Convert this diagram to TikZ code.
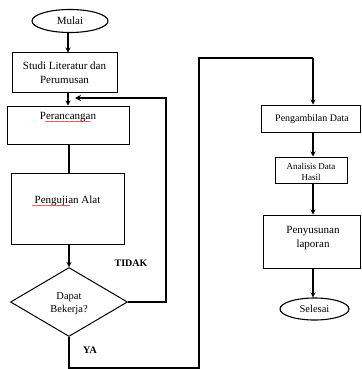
\documentclass[tikz,border=0pt]{standalone}
\usepackage{fontspec}
\setmainfont{Liberation Serif}
\usetikzlibrary{shapes.geometric,arrows.meta,decorations.pathmorphing}
\begin{document}
\begin{tikzpicture}[x=1pt,y=-1pt,
  box/.style={draw,line width=1pt,rectangle,inner sep=0pt},
  oval/.style={draw,line width=1.1pt,ellipse,inner sep=0pt},
  txt/.style={inner sep=0pt,align=center,font=\fontsize{11}{14}\selectfont},
  small/.style={inner sep=0pt,align=center,font=\fontsize{10}{11}\selectfont},
  arr/.style={line width=1.1pt,-{Stealth[length=5pt,width=5pt]}},
  ln/.style={line width=1.1pt},
  loop/.style={line width=1.6pt},
  wavy/.style={draw=red!80!black,line width=0.35pt,decorate,decoration={snake,amplitude=0.5pt,segment length=2.5pt}}]
\useasboundingbox (0,0) rectangle (361,369);
% left column
\node[oval,minimum width=76pt,minimum height=23pt] (mulai) at (70,21) {};
\node[txt] (tmulai) at (70,21) {Mulai};
\node[box,minimum width=105pt,minimum height=39pt] (studi) at (64.5,72.5) {};
\node[txt] (tstudi) at (64.5,73) {Studi Literatur dan\\Perumusan};
\node[box,minimum width=122pt,minimum height=38pt] (peran) at (68,125) {};
\node[txt] (tperan) at (68,117) {Perancangan};
\node[box,minimum width=113pt,minimum height=71pt] (peng) at (67.5,208.5) {};
\node[txt] (tpeng) at (67.5,201) {Pengujian Alat};
\node[draw,line width=1pt,diamond,aspect=1.7,minimum width=117pt,minimum height=69pt,inner sep=0pt] (dia) at (69,302) {};
\node[txt,font=\fontsize{10.5}{13}\selectfont] (tdia) at (69,304) {Dapat\\Bekerja?};
\draw[wavy] (45,121.5) -- (91,121.5);
\draw[wavy] (32,205.5) -- (70,205.5);
% right column
\node[box,minimum width=99pt,minimum height=27pt] (ambil) at (310.5,118.5) {};
\node[small] (tambil) at (312,119) {Pengambilan Data};
\node[box,minimum width=72pt,minimum height=26pt] (anal) at (311,170) {};
\node[small,font=\fontsize{9}{10.5}\selectfont] (tanal) at (311,172) {Analisis Data\\Hasil};
\node[box,minimum width=97pt,minimum height=53pt] (susun) at (311.5,241.5) {};
\node[txt] (tsusun) at (313,238) {Penyusunan\\laporan};
\node[oval,minimum width=69pt,minimum height=22pt] (selesai) at (314.5,309) {};
\node[txt,font=\fontsize{10.5}{13}\selectfont] (tselesai) at (314.5,309) {Selesai};
% labels
\node[inner sep=0pt,font=\bfseries\fontsize{10}{12}\selectfont] (tidak) at (131,263) {TIDAK};
\node[inner sep=0pt,font=\bfseries\fontsize{10}{12}\selectfont] (ya) at (90,350) {YA};
% coordinates
\coordinate (c1) at (166,98);
\coordinate (c2) at (75,98);
\coordinate (y1) at (69,368);
\coordinate (y2) at (199,58);
\coordinate (y3) at (313,58);
% connectors
\draw[arr] (peran.north |- mulai.south) -- (peran.north |- studi.north);
\draw[arr] (peran.north |- studi.south) -- (peran.north);
\draw[ln] (dia.north |- peran.south) -- (dia.north |- peng.north);
\draw[arr] (dia.north |- peng.south) -- (dia.north);
\draw[loop,-{Stealth[length=6pt,width=6pt]}] (dia.east) -| (c1) -- (c2);
\draw[loop] (dia.south) -- (y1) -| (y2) -- (y3);
\draw[arr] (y3) -- (y3 |- ambil.north);
\draw[arr] (y3 |- ambil.south) -- (y3 |- anal.north);
\draw[arr] (y3 |- anal.south) -- (y3 |- susun.north);
\draw[arr] (y3 |- susun.south) -- (y3 |- selesai.north);
\end{tikzpicture}
\end{document}
